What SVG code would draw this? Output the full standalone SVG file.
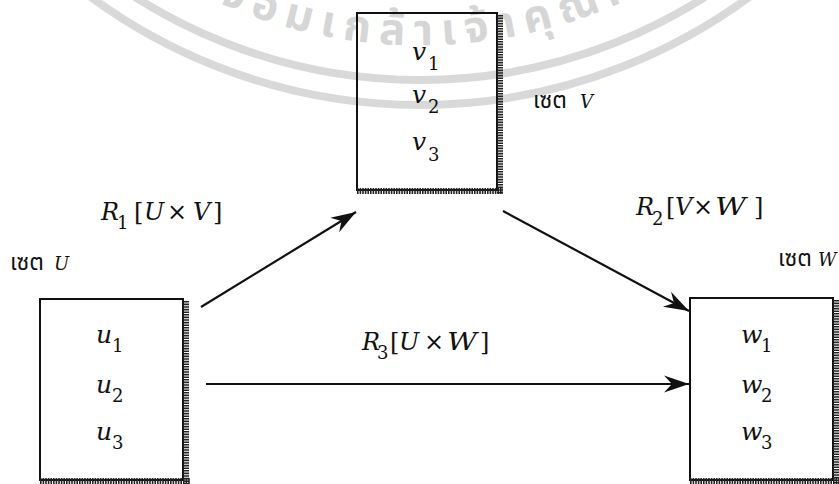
<svg xmlns="http://www.w3.org/2000/svg" width="839" height="484" viewBox="0 0 839 484">
<style>
.bg{fill:#fff}
.wmband{fill:none;stroke:#d9d9d9;stroke-width:8}
.wmtext{font-family:"Noto Sans Thai","Noto Sans","DejaVu Sans",sans-serif;font-size:44px;font-weight:bold;fill:#d6d6d6;letter-spacing:9px}
.box{fill:none;stroke:#111;stroke-width:2}
.shadow{stroke:#222;stroke-width:6;stroke-dasharray:1.6 1}
.var{font-family:"DejaVu Serif",serif;font-style:italic;font-size:25px;fill:#111}
.sub{font-family:"DejaVu Serif",serif;font-size:18px;fill:#111}
.up{font-family:"DejaVu Serif",serif;font-size:24px;fill:#111}
.it{font-family:"DejaVu Serif",serif;font-style:italic;font-size:24px;fill:#111}
.th{font-family:"Noto Sans Thai","Noto Serif Thai","Liberation Serif",serif;font-size:23px;fill:#111}
.thv{font-family:"DejaVu Serif",serif;font-style:italic;font-size:18px;fill:#111}
.conn{fill:none;stroke:#111;stroke-width:2.2}
</style>
<defs>
<marker id="arr" markerUnits="userSpaceOnUse" markerWidth="30" markerHeight="20" viewBox="-26 -10 28 20" refX="0" refY="0" orient="auto">
<path d="M0,0 L-25,-8.5 L-17,0 L-25,8.5 Z" fill="#111"/>
</marker>
<path id="wmpath" d="M 26,-150 A 495 495 0 0 0 814,-150"/>
</defs>
<rect class="bg" x="0" y="0" width="839" height="484"/>
<g id="watermark">
<circle class="wmband" cx="420" cy="-450" r="555"/>
<circle class="wmband" cx="420" cy="-450" r="530"/>
<text class="wmtext"><textPath href="#wmpath" startOffset="150">พระจอมเกล้าเจ้าคุณทหาร</textPath></text>
</g>
<g id="connectors">
<line class="conn" x1="201" y1="307" x2="356" y2="212" marker-end="url(#arr)"/>
<line class="conn" x1="503" y1="211" x2="689" y2="311" marker-end="url(#arr)"/>
<line class="conn" x1="206" y1="384" x2="689" y2="384" marker-end="url(#arr)"/>
</g>
<g id="setV">
<rect class="box" x="357" y="13" width="140" height="177"/>
<line class="shadow" x1="500" y1="15" x2="500" y2="194"/>
<line class="shadow" x1="357" y1="191" x2="503" y2="191"/>
<text class="var" x="412" y="60">v</text><text class="sub" x="428" y="70">1</text>
<text class="var" x="412" y="103">v</text><text class="sub" x="428" y="113">2</text>
<text class="var" x="412" y="150">v</text><text class="sub" x="428" y="161">3</text>
<text x="533" y="108"><tspan class="th">เซต</tspan><tspan class="thv" x="580">V</tspan></text>
</g>
<g id="setU">
<rect class="box" x="40" y="299" width="143" height="181"/>
<line class="shadow" x1="186" y1="301" x2="186" y2="484"/>
<line class="shadow" x1="40" y1="481" x2="190" y2="481"/>
<text class="var" x="96" y="343">u</text><text class="sub" x="112" y="352">1</text>
<text class="var" x="96" y="393">u</text><text class="sub" x="112" y="402">2</text>
<text class="var" x="96" y="440">u</text><text class="sub" x="112" y="449">3</text>
<text x="10" y="270"><tspan class="th">เซต</tspan><tspan class="thv" x="54">U</tspan></text>
</g>
<g id="setW">
<rect class="box" x="690" y="298" width="143" height="182"/>
<line class="shadow" x1="836" y1="300" x2="836" y2="484"/>
<line class="shadow" x1="690" y1="481" x2="839" y2="481"/>
<text class="var" x="741" y="343">w</text><text class="sub" x="761" y="352">1</text>
<text class="var" x="741" y="393">w</text><text class="sub" x="761" y="402">2</text>
<text class="var" x="741" y="440">w</text><text class="sub" x="761" y="449">3</text>
<text x="778" y="266"><tspan class="th">เซต</tspan><tspan class="thv" x="818">W</tspan></text>
</g>
<g id="labelR1">
<text class="it" x="101" y="220">R</text><text class="sub" x="117" y="229">1</text>
<text class="up" x="134" y="220">[</text><text class="it" x="144" y="220">U</text>
<text class="up" x="167" y="220">×</text><text class="it" x="193" y="220">V</text>
<text class="up" x="213" y="220">]</text>
</g>
<g id="labelR2">
<text class="it" x="636" y="215">R</text><text class="sub" x="652" y="225">2</text>
<text class="up" x="666" y="215">[</text><text class="it" x="675" y="215">V</text>
<text class="up" x="693" y="215">×</text><text class="it" x="715" y="215" textLength="31" lengthAdjust="spacingAndGlyphs">W</text>
<text class="up" x="754" y="215">]</text>
</g>
<g id="labelR3">
<text class="it" x="362" y="350">R</text><text class="sub" x="377" y="359">3</text>
<text class="up" x="390" y="350">[</text><text class="it" x="399" y="350">U</text>
<text class="up" x="424" y="350">×</text><text class="it" x="447" y="350" textLength="30" lengthAdjust="spacingAndGlyphs">W</text>
<text class="up" x="480" y="350">]</text>
</g>
</svg>
